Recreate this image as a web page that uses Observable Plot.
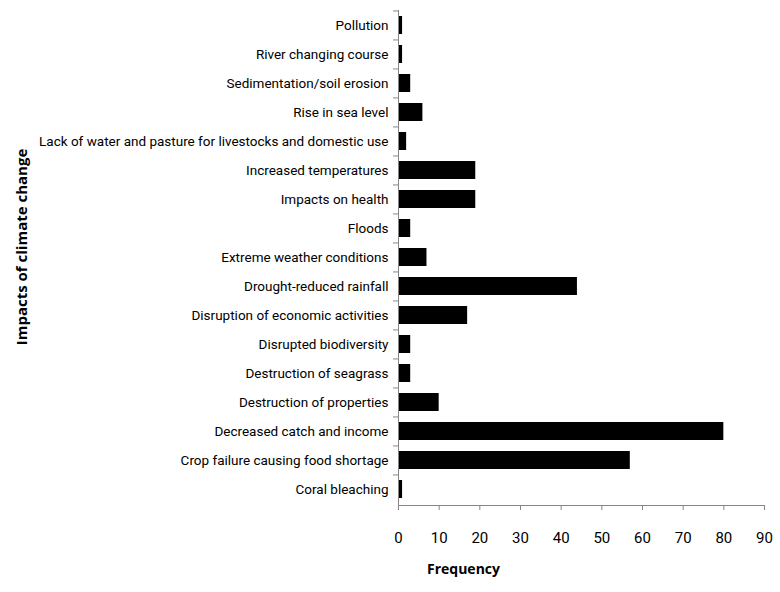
<!DOCTYPE html>
<html>
<head>
<meta charset="utf-8">
<script src="https://cdn.jsdelivr.net/npm/d3@7"></script>
<script src="https://cdn.jsdelivr.net/npm/@observablehq/plot@0.6"></script>
<style>
  html, body { margin: 0; padding: 0; background: #fff; }
  #chart svg { display: block; }
</style>
</head>
<body>
<div id="chart"></div>
<script>
const categories = [
  "Pollution",
  "River changing course",
  "Sedimentation/soil erosion",
  "Rise in sea level",
  "Lack of water and pasture for livestocks and domestic use",
  "Increased temperatures",
  "Impacts on health",
  "Floods",
  "Extreme weather conditions",
  "Drought-reduced rainfall",
  "Disruption of economic activities",
  "Disrupted biodiversity",
  "Destruction of seagrass",
  "Destruction of properties",
  "Decreased catch and income",
  "Crop failure causing food shortage",
  "Coral bleaching"
];
const frequencies = [1, 1, 3, 6, 2, 19, 19, 3, 7, 44, 17, 3, 3, 10, 80, 57, 1];
const xTicks = [0, 10, 20, 30, 40, 50, 60, 70, 80, 90];
const xLabel = "Frequency";
const yLabel = "Impacts of climate change";

const data = categories.map((c, i) => ({category: c, value: frequencies[i]}));

const W = 780, H = 592, mt = 10, mb = 87, ml = 398, mr = 16;
const step = (H - mt - mb) / categories.length;
const labelFont = "Roboto, 'Liberation Sans', sans-serif";
const boldFont = "'Open Sans', 'DejaVu Sans', sans-serif";
const axisGray = "#868686";

const chart = Plot.plot({
  width: W,
  height: H,
  marginTop: mt,
  marginBottom: mb,
  marginLeft: ml,
  marginRight: mr,
  style: {fontFamily: labelFont, fontSize: "14px", color: "#000", background: "#fff"},
  x: {domain: [0, 90], ticks: xTicks, label: null},
  y: {domain: categories, paddingInner: 0.37, paddingOuter: 0.185, label: null},
  marks: [
    Plot.barX(data, {x: "value", y: "category", fill: "#000"}),
    Plot.ruleX([0], {stroke: axisGray, strokeWidth: 1}),
    Plot.frame({anchor: "bottom", stroke: axisGray, strokeOpacity: 1}),
    Plot.axisX({ticks: xTicks, tickSize: 5, tickPadding: 22, stroke: axisGray, strokeOpacity: 1, fill: "#000", fontSize: 15, tickFormat: d => String(d)}),
    Plot.axisY({tickSize: 0, tickPadding: 10, fill: "#000", fontSize: 13.5}),
    Plot.axisY({tickSize: 5, text: null, dy: -step / 2, stroke: axisGray, strokeOpacity: 1}),
    Plot.text([xLabel], {text: d => d, frameAnchor: "bottom-left", dx: 65, dy: 68, fontFamily: boldFont, fontWeight: "bold", fontSize: 14, fill: "#000", textAnchor: "middle"}),
    Plot.text([yLabel], {text: d => d, frameAnchor: "left", dx: -376, dy: -11, rotate: -90, fontFamily: boldFont, fontWeight: "bold", fontSize: 15, fill: "#000", textAnchor: "middle"})
  ]
});
document.getElementById("chart").append(chart);
</script>
</body>
</html>
